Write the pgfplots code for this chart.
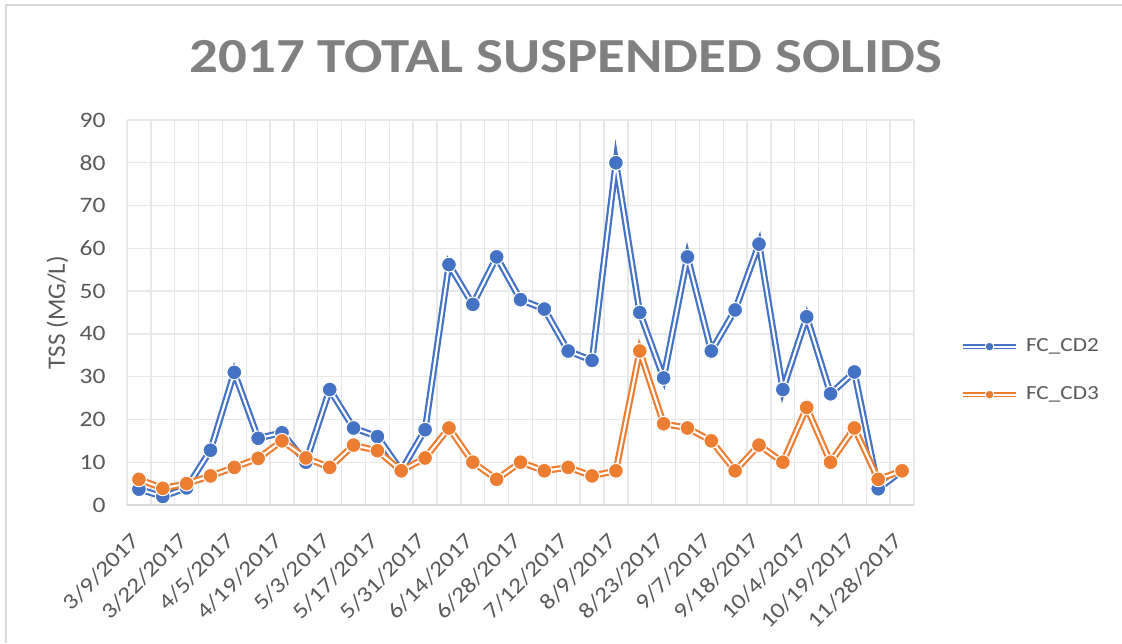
\documentclass[border=0pt]{standalone}
\usepackage{fontspec}
\setmainfont{Carlito}[FakeStretch=1.16]
\newfontfamily\ylabfont{Carlito}
\usepackage{pgfplots}
\pgfplotsset{compat=1.18}

\definecolor{cdblue}{HTML}{4472C4}
\definecolor{cdorange}{HTML}{ED7D31}
\definecolor{txtgray}{HTML}{595959}
\definecolor{titlegray}{HTML}{808080}
\definecolor{gridgray}{HTML}{E8E8E8}
\definecolor{framegray}{HTML}{D9D9D9}

% one series per table: sample index, TSS (mg/L)
\pgfplotstableread{
i  tss
0  3.7
1  2
2  4
3  12.8
4  31
5  15.6
6  16.9
7  10
8  27
9  18
10 16
11 8
12 17.6
13 56.2
14 46.9
15 58
16 48
17 45.8
18 36
19 33.8
20 80
21 45
22 29.7
23 58
24 36
25 45.6
26 61
27 27
28 44
29 26
30 31.1
31 3.8
32 8
}\cdtwo

\pgfplotstableread{
i  tss
0  6
1  3.9
2  5
3  6.8
4  8.8
5  10.9
6  15
7  11
8  8.8
9  14
10 12.7
11 8
12 11
13 18
14 10
15 6
16 10
17 8
18 8.8
19 6.8
20 8
21 36
22 19
23 18
24 15
25 8
26 14
27 10
28 22.8
29 10
30 18
31 6
32 8
}\cdthree

\begin{document}
\begin{tikzpicture}
% 1px of the reference = 0.5pt, origin = lower left corner of the plot area
\useasboundingbox (-63.5pt,-69pt) rectangle (497.5pt,252.5pt);
\draw[framegray, line width=0.8pt] (-60.5pt,-69pt) -- (-60.5pt,250pt) -- (497.5pt,250pt);

\node[anchor=base, font=\bfseries\fontsize{24.5}{29}\selectfont, text=titlegray]
  at (219.5pt,216pt) {2017 TOTAL SUSPENDED SOLIDS};

\begin{axis}[
  scale only axis,
  width=393.5pt, height=192.5pt,
  xmin=-0.5, xmax=32.5,
  ymin=0, ymax=90,
  ytick={0,10,...,90},
  xtick={0,2,...,32},
  xticklabels={3/9/2017,3/22/2017,4/5/2017,4/19/2017,5/3/2017,5/17/2017,5/31/2017,6/14/2017,6/28/2017,7/12/2017,8/9/2017,8/23/2017,9/7/2017,9/18/2017,10/4/2017,10/19/2017,11/28/2017},
  minor xtick={-0.5,0.5,...,32.5},
  xminorgrids=true, ymajorgrids=true, xmajorgrids=false,
  grid style={gridgray, line width=0.7pt},
  minor grid style={gridgray, line width=0.7pt},
  separate axis lines,
  axis x line*=bottom, axis y line*=left,
  x axis line style={framegray, line width=0.8pt, -},
  y axis line style={draw=none, -},
  major tick length=0pt, minor tick length=0pt,
  tick style={draw=none},
  /pgf/number format/assume math mode=true,
  yticklabel style={font=\fontsize{11}{13}\selectfont, text=txtgray, anchor=east, inner sep=0pt, xshift=-10.5pt},
  xticklabel style={font=\fontsize{11}{13}\selectfont, text=txtgray, xshift=-1.5pt, yshift=-16pt, rotate=45, anchor=east, inner sep=0pt},
  ylabel={TSS (MG/L)},
  every axis y label/.style={at={(axis description cs:-0.0883,0.5)}, rotate=90, anchor=center,
    font=\ylabfont\fontsize{12.5}{15}\selectfont, text=txtgray},
  every axis plot/.append style={line width=1.1pt, double=white, double distance=1.1pt,
    line join=miter, mark=*, mark size=3.7pt},
  legend image code/.code={
    \draw[mark repeat=2, mark phase=2, #1, line width=0.8pt, double distance=0.9pt,
      every mark/.append style={scale=0.6}]
      plot coordinates {(0pt,0pt) (13.25pt,0pt) (26.5pt,0pt)};},
  legend style={at={(axis description cs:1.0591,0.349)}, anchor=west, draw=none, fill=none,
    inner sep=0pt, outer sep=0pt, row sep=13.5pt, font=\fontsize{10}{12}\selectfont, text=txtgray,
    nodes={inner sep=1.25pt}},
  legend cell align=left,
]
\addplot[cdblue, mark options={fill=cdblue, draw=white, line width=0.5pt}] table[x=i, y=tss] {\cdtwo};
\addplot[cdorange, mark options={fill=cdorange, draw=white, line width=0.5pt}] table[x=i, y=tss] {\cdthree};
\legend{\hspace{2.5pt}FC\_CD2, \hspace{2.5pt}FC\_CD3}
\end{axis}
\end{tikzpicture}
\end{document}
